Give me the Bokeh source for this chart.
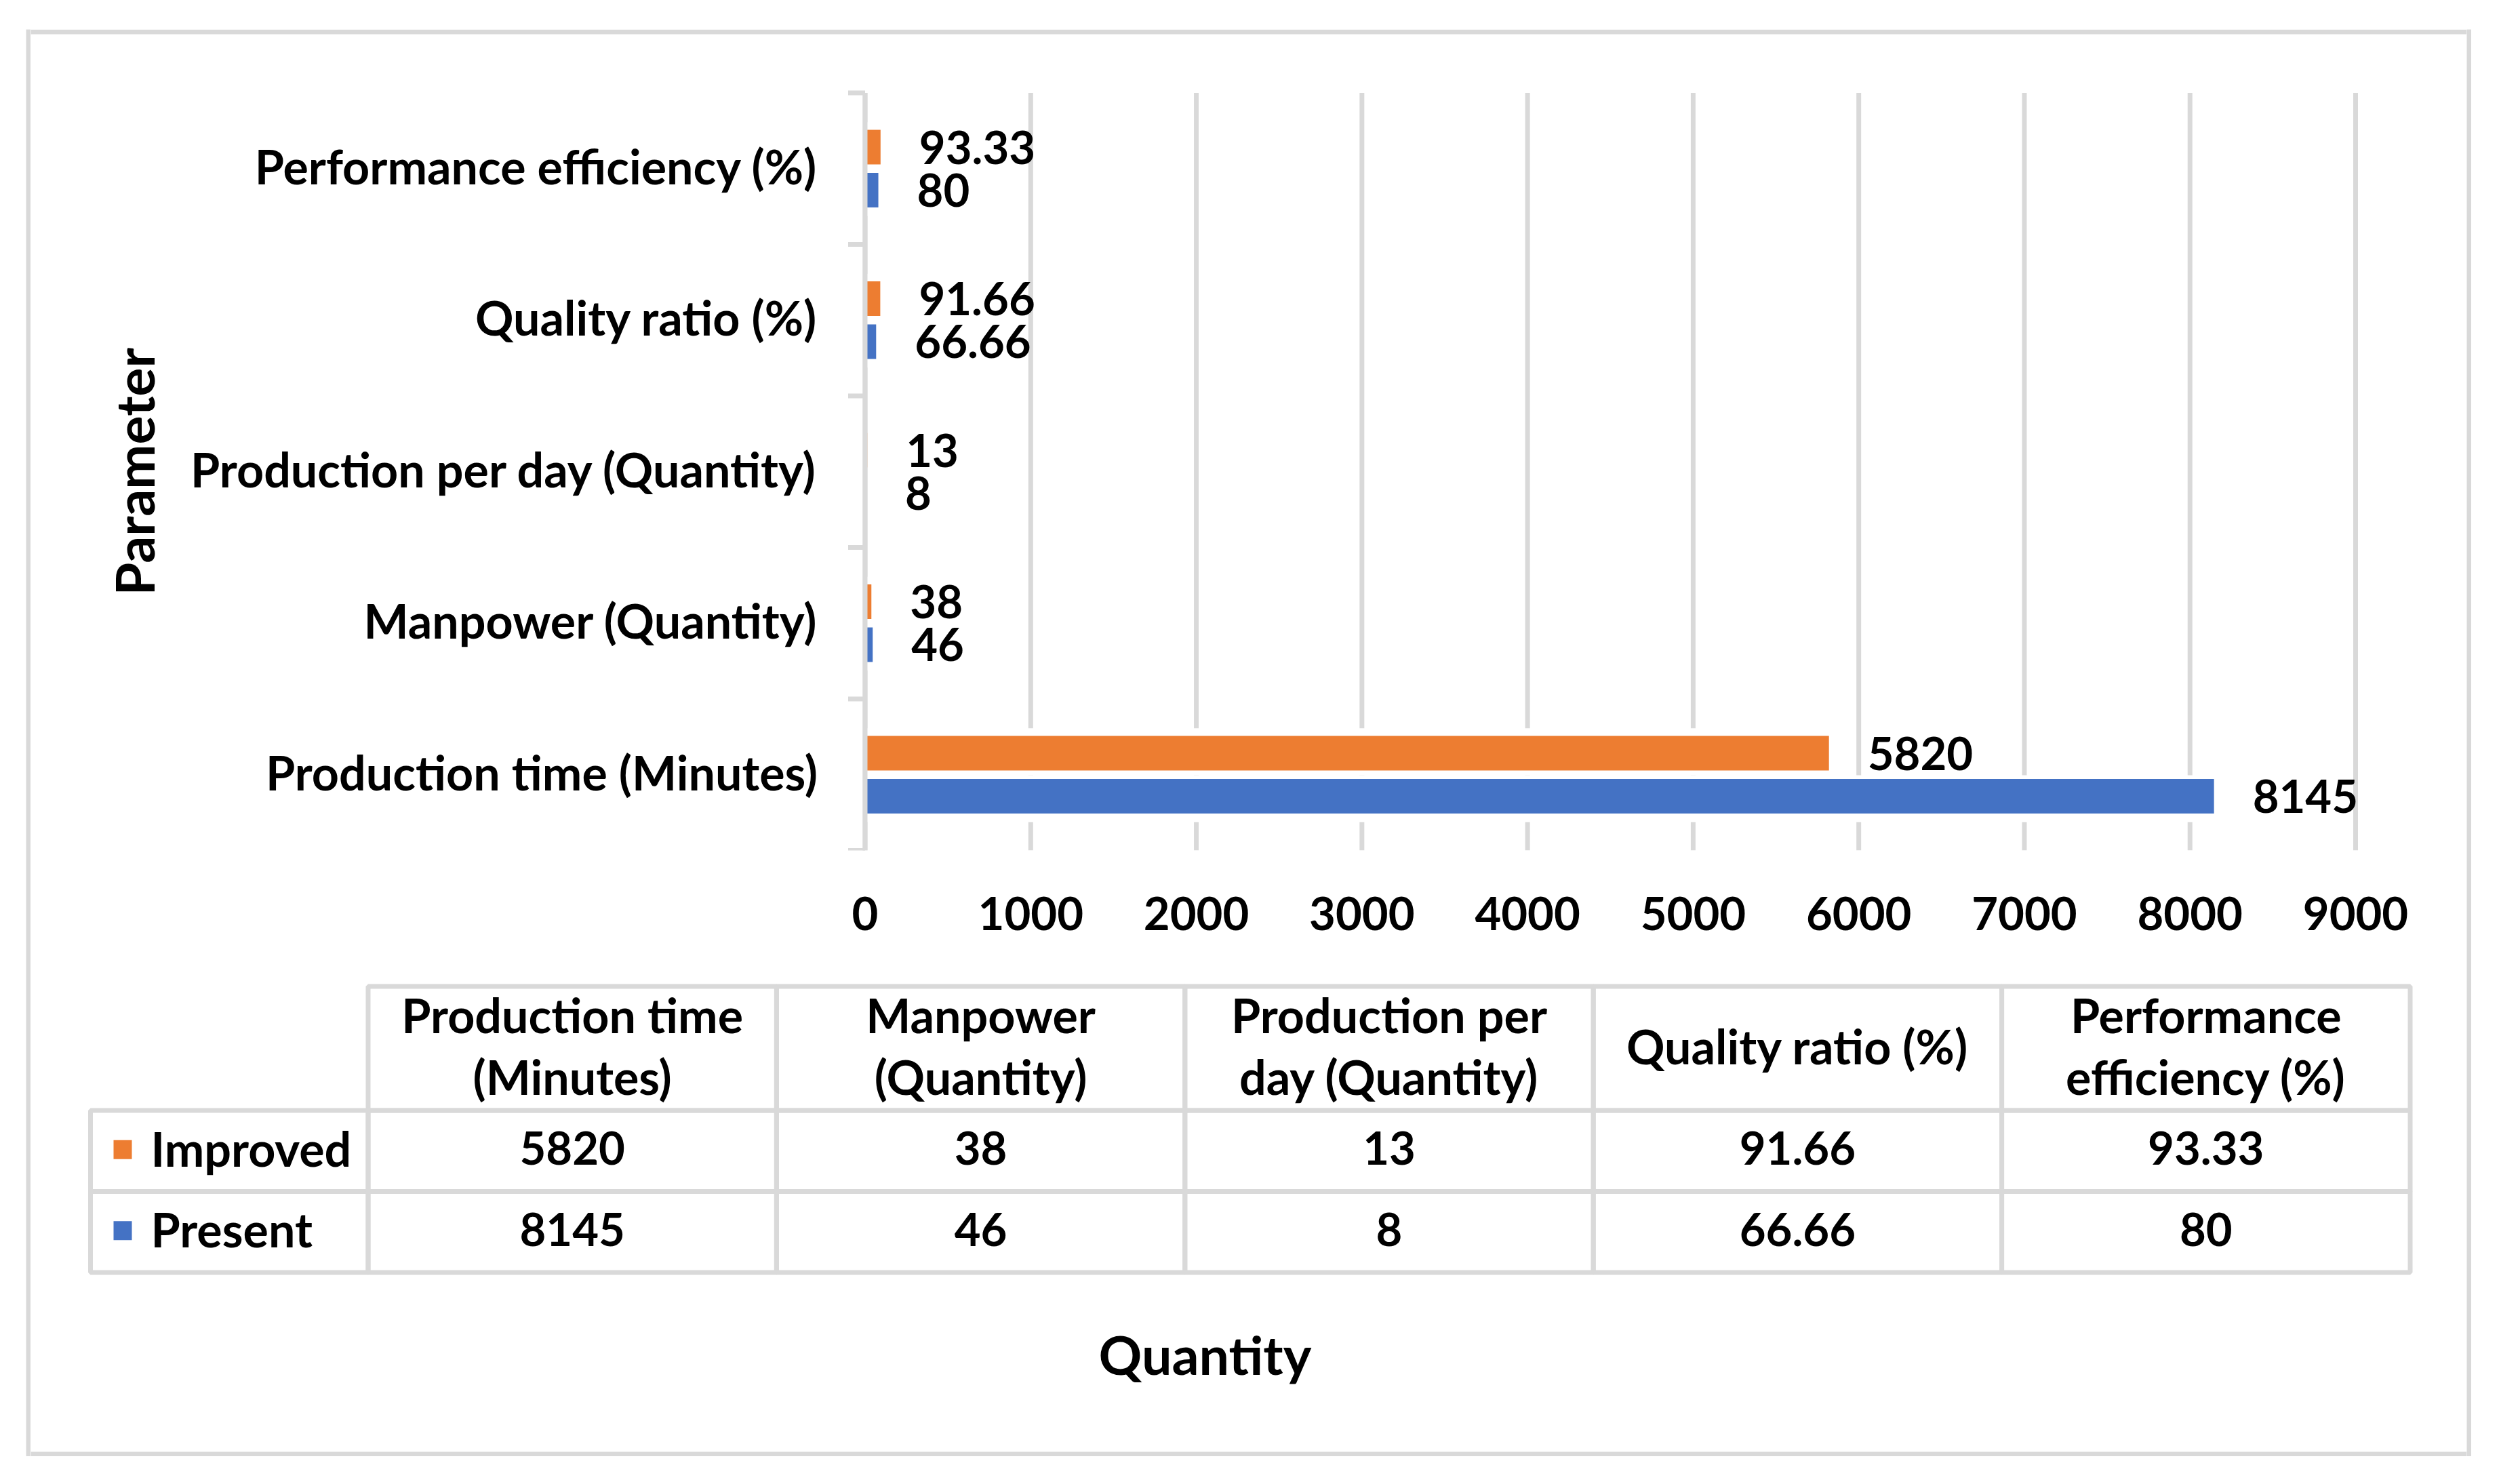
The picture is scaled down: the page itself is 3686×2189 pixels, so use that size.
import math
from bokeh.plotting import figure
from bokeh.models import Range1d, FixedTicker, ColumnDataSource, Spacer
from bokeh.layouts import column, row
from bokeh.transform import dodge
from bokeh.embed import file_html
from bokeh.resources import INLINE
from bokeh.core.properties import value

# ---------------- data ----------------
categories = ["Production time (Minutes)", "Manpower (Quantity)",
              "Production per day (Quantity)", "Quality ratio (%)",
              "Performance efficiency (%)"]
table_headers = [["Production time", "(Minutes)"], ["Manpower", "(Quantity)"],
                 ["Production per", "day (Quantity)"], ["Quality ratio (%)"],
                 ["Performance", "efficiency (%)"]]
series_names = ["Improved", "Present"]
improved = [5820, 38, 13, 91.66, 93.33]
present = [8145, 46, 8, 66.66, 80]
improved_labels = ["5820", "38", "13", "91.66", "93.33"]
present_labels = ["8145", "46", "8", "66.66", "80"]
x_ticks = [0, 1000, 2000, 3000, 4000, 5000, 6000, 7000, 8000, 9000]
x_title = "Quantity"
y_title = "Parameter"

# ---------------- style / layout constants (canvas pixels) ----------------
ORANGE = "#ED7D31"
BLUE = "#4472C4"
GRID = "#D9D9D9"
FONT = "Lato"
FS_TXT = "70px"
FS_NUM = "67px"
FS_TITLE = "79px"
LW = 7
TXT_DY = -4                     # small optical correction for "middle" baseline

n = len(categories)
centers = [i + 0.5 for i in range(n)]
bounds = [float(i) for i in range(n + 1)]

STRIP_L = 38                    # left edge of the outer border
IN_L, IN_R = 45, 3638           # inner edges of the outer border
BOX_T, BOX_B = 43, 2148         # outer border extent (top/bottom)
PLOT_L, PLOT_R = 1275.5, 3474   # value axis 0 .. 9000
PLOT_T, PLOT_B = 136.5, 1254    # category band area
FIG1_B = 1432
XMAX = 9000
k = (PLOT_R - PLOT_L) / XMAX    # px per value unit
band = (PLOT_B - PLOT_T) / n    # px per category
INNER_W = IN_R - IN_L

# ================= chart =================
p = figure(frame_width=INNER_W, frame_height=PLOT_B - BOX_T,
           output_backend="svg", toolbar_location=None,
           x_range=Range1d(-(PLOT_L - IN_L) / k, XMAX + (IN_R - PLOT_R) / k),
           y_range=Range1d(0, n + (PLOT_T - BOX_T) / band),
           y_axis_location=None,
           min_border_left=0, min_border_right=0,
           min_border_top=0, min_border_bottom=FIG1_B - PLOT_B)
p.outline_line_color = None
p.background_fill_color = "white"
p.border_fill_color = "white"
p.grid.visible = False
p.extra_x_ranges = {"px": Range1d(IN_L, IN_R)}
p.extra_y_ranges = {"px": Range1d(PLOT_B, BOX_T)}

xax = p.xaxis[0]
xax.ticker = FixedTicker(ticks=x_ticks)
xax.axis_line_color = None
xax.major_tick_line_color = None
xax.minor_tick_line_color = None
xax.major_label_standoff = 62
xax.major_label_text_font = FONT
xax.major_label_text_font_style = "bold"
xax.major_label_text_font_size = FS_NUM
xax.major_label_text_color = "black"

# vertical gridlines
p.segment(x0=x_ticks, x1=x_ticks, y0=0, y1=n, line_color=GRID, line_width=7)

src = ColumnDataSource(dict(y=centers, improved=improved, present=present,
                            il=improved_labels, pl=present_labels))
off_imp, off_pre, bh = 0.142, -0.142, 0.228

# white backing (interrupts gridlines behind the bars as in the original)
p.hbar(y=dodge("y", 0.152), left=0, right="improved",
       height=0.31, fill_color="white", line_color=None, source=src)
p.hbar(y=dodge("y", -0.158), left=0, right="present",
       height=0.31, fill_color="white", line_color=None, source=src)

p.hbar(y=dodge("y", off_imp), left=0, right="improved",
       height=bh, fill_color=ORANGE, line_color=None, source=src)
p.hbar(y=dodge("y", off_pre), left=0, right="present",
       height=bh, fill_color=BLUE, line_color=None, source=src)

for col, lab, off in (("improved", "il", off_imp), ("present", "pl", off_pre)):
    p.text(x=col, y=dodge("y", off), text=lab, source=src,
           x_offset=57, text_align="left", text_baseline="middle",
           text_font=value(FONT), text_font_style="bold", text_font_size=FS_NUM,
           text_color="black")

# category axis: line, boundary ticks, labels, title
p.segment(x0=[0], x1=[0], y0=[0], y1=[n], line_color=GRID, line_width=7)
p.segment(x0=[-25 / k] * len(bounds), x1=[0] * len(bounds), y0=bounds, y1=bounds,
          line_color=GRID, line_width=7)
p.text(x=[0] * n, y=centers, text=categories, x_offset=-70, y_offset=TXT_DY,
       text_align="right", text_baseline="middle",
       text_font=value(FONT), text_font_style="bold", text_font_size=FS_TXT,
       text_color="black")
p.text(x=[197], y=[(PLOT_T + PLOT_B) / 2], text=[y_title], angle=math.pi / 2,
       x_range_name="px", y_range_name="px",
       text_align="center", text_baseline="middle",
       text_font=value(FONT), text_font_style="bold", text_font_size=FS_TITLE,
       text_color="black")

# top edge of the outer border
p.segment(x0=[IN_L], x1=[IN_R], y0=[BOX_T + LW / 2], y1=[BOX_T + LW / 2],
          x_range_name="px", y_range_name="px", line_color=GRID, line_width=LW)

# ================= data table =================
t = figure(frame_width=INNER_W, frame_height=BOX_B - FIG1_B,
           output_backend="svg", toolbar_location=None, min_border=0,
           x_range=Range1d(IN_L, IN_R), y_range=Range1d(BOX_B, FIG1_B),
           x_axis_location=None, y_axis_location=None)
t.outline_line_color = None
t.grid.visible = False
t.background_fill_color = "white"
t.border_fill_color = "white"

tbl_left, first_col_right, col_w = 133, 542.5, 602.4
hdr_top, hdr_h, row_h = 1454.5, 183, 119.5
edges = [first_col_right + i * col_w for i in range(n + 1)]

cells = dict(l=[], r=[], tp=[], b=[])
def cell(l, r, tp, b):
    cells["l"].append(l); cells["r"].append(r)
    cells["tp"].append(tp); cells["b"].append(b)

txt = dict(x=[], y=[], s=[], size=[], align=[])
def put(x, y, s, size, align="center"):
    txt["x"].append(x); txt["y"].append(y); txt["s"].append(s)
    txt["size"].append(size); txt["align"].append(align)

hdr_mid = hdr_top + hdr_h / 2
for i in range(n):
    cell(edges[i], edges[i + 1], hdr_top, hdr_top + hdr_h)
    cx = (edges[i] + edges[i + 1]) / 2
    lines = table_headers[i]
    if len(lines) == 1:
        put(cx, hdr_mid, lines[0], FS_TXT)
    else:
        put(cx, hdr_mid - 45.5, lines[0], FS_TXT)
        put(cx, hdr_mid + 45.5, lines[1], FS_TXT)

keys = dict(l=[], r=[], tp=[], b=[], c=[])
rows = [(series_names[0], improved_labels, ORANGE),
        (series_names[1], present_labels, BLUE)]
for r_i, (name, vals, color) in enumerate(rows):
    top = hdr_top + hdr_h + r_i * row_h
    mid = top + row_h / 2
    cell(tbl_left, first_col_right, top, top + row_h)
    keys["l"].append(167); keys["r"].append(194)
    keys["tp"].append(mid - 16); keys["b"].append(mid + 12); keys["c"].append(color)
    put(222, mid, name, FS_TXT, "left")
    for i in range(n):
        cell(edges[i], edges[i + 1], top, top + row_h)
        put((edges[i] + edges[i + 1]) / 2, mid, vals[i], FS_NUM)

t.quad(left="l", right="r", top="tp", bottom="b", source=ColumnDataSource(cells),
       fill_color=None, line_color=GRID, line_width=LW)
t.quad(left="l", right="r", top="tp", bottom="b", color="c",
       source=ColumnDataSource(keys), line_color=None)
t.text(x="x", y="y", text="s", text_font_size="size", text_align="align",
       source=ColumnDataSource(txt), text_baseline="middle", y_offset=TXT_DY,
       text_font=value(FONT), text_font_style="bold", text_color="black")

t.text(x=[1777], y=[2001], text=[x_title], text_align="center",
       text_baseline="middle", y_offset=TXT_DY,
       text_font=value(FONT), text_font_style="bold",
       text_font_size=FS_TITLE, text_color="black")

# bottom edge of the outer border
t.segment(x0=[IN_L], x1=[IN_R], y0=[BOX_B - LW / 2], y1=[BOX_B - LW / 2],
          line_color=GRID, line_width=LW)

# ================= side edges of the outer border =================
def strip(w, h):
    s = figure(width=w, height=h, output_backend="svg", toolbar_location=None,
               min_border=0, x_axis_location=None, y_axis_location=None)
    s.grid.visible = False
    s.outline_line_color = None
    s.background_fill_color = GRID
    s.border_fill_color = GRID
    return s

H_ALL = BOX_B - BOX_T
page = column(Spacer(width=10, height=BOX_T),
              row(Spacer(width=STRIP_L, height=H_ALL),
                  strip(IN_L - STRIP_L, H_ALL), column(p, t),
                  strip(IN_L - STRIP_L, H_ALL)))

open("out.html", "w").write(file_html(page, INLINE))
